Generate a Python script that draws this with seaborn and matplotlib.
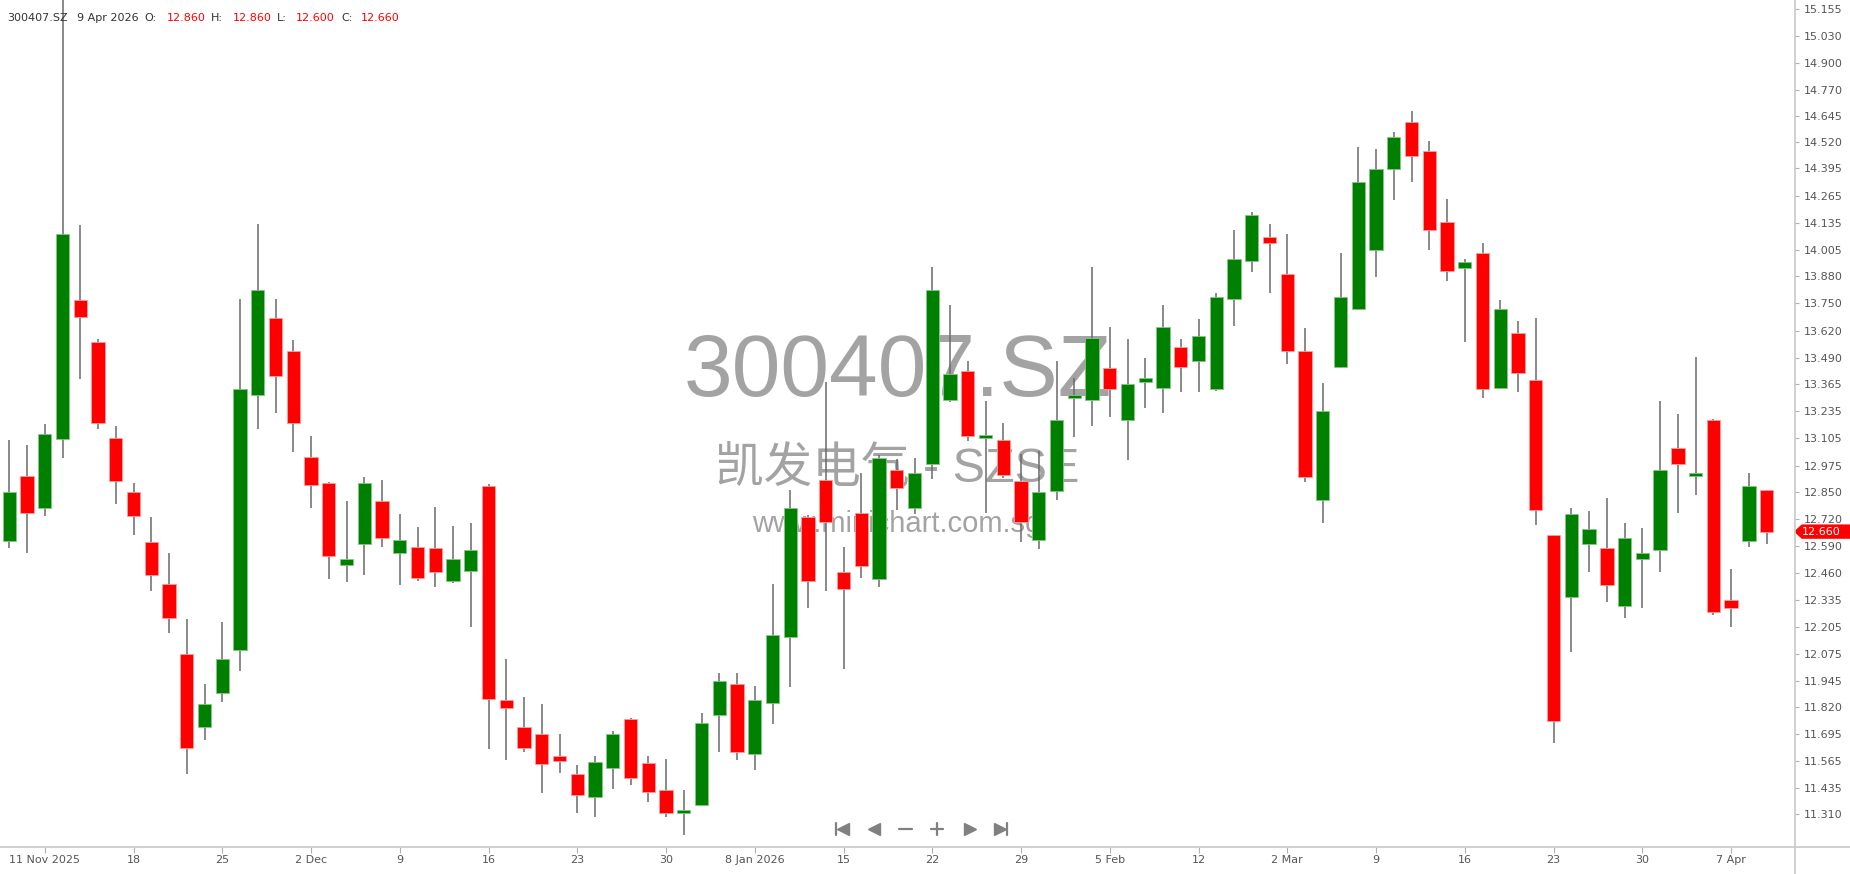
# 300407.SZ daily candles, minichart style
import matplotlib
matplotlib.use("Agg")
import matplotlib.pyplot as plt
from matplotlib.lines import Line2D
from matplotlib.patches import Polygon
import seaborn as sns
import numpy as np
import pandas as pd

ticker = "300407.SZ"
name_cn = "凯发电气 - SZSE"
site = "www.minichart.com.sg"
last_date = "9 Apr 2026"

# OHLC, oldest first
opens = [12.613, 12.926, 12.774, 13.102, 13.765, 13.564, 13.107, 12.850, 12.610, 12.409,
         12.076, 11.728, 11.889, 12.096, 13.311, 13.682, 13.523, 13.016, 12.893, 12.502,
         12.603, 12.805, 12.560, 12.588, 12.583, 12.424, 12.472, 12.880, 11.854, 11.725,
         11.695, 11.587, 11.503, 11.390, 11.531, 11.766, 11.556, 11.425, 11.314, 11.355,
         11.783, 11.932, 11.597, 11.841, 12.157, 12.731, 12.908, 12.469, 12.749, 12.434,
         12.956, 12.774, 12.981, 13.289, 13.425, 13.105, 13.100, 12.900, 12.620, 12.855,
         13.296, 13.289, 13.443, 13.195, 13.374, 13.347, 13.543, 13.475, 13.339, 13.773,
         13.952, 14.068, 13.889, 13.523, 12.812, 13.448, 13.725, 14.007, 14.393, 14.618,
         14.479, 14.141, 13.919, 13.992, 13.347, 13.611, 13.385, 12.643, 12.346, 12.603,
         12.583, 12.305, 12.527, 12.573, 13.059, 12.926, 13.195, 12.331, 12.613, 12.860]
highs = [13.100, 13.074, 13.175, 15.350, 14.123, 13.581, 13.163, 12.893, 12.729, 12.557,
         12.242, 11.932, 12.230, 13.770, 14.128, 13.770, 13.576, 13.115, 12.898, 12.805,
         12.921, 12.908, 12.744, 12.681, 12.779, 12.689, 12.701, 12.888, 12.051, 11.869,
         11.836, 11.695, 11.544, 11.589, 11.705, 11.771, 11.589, 11.574, 11.425, 11.791,
         11.985, 11.985, 11.922, 12.409, 12.858, 12.740, 13.374, 12.585, 12.938, 13.026,
         13.006, 13.014, 13.922, 13.743, 13.473, 13.284, 13.178, 13.032, 13.044, 13.473,
         13.395, 13.922, 13.639, 13.581, 13.490, 13.743, 13.581, 13.677, 13.801, 14.101,
         14.189, 14.128, 14.083, 13.634, 13.369, 13.992, 14.497, 14.486, 14.570, 14.668,
         14.527, 14.247, 13.962, 14.040, 13.765, 13.667, 13.682, 12.645, 12.774, 12.759,
         12.820, 12.699, 12.679, 13.284, 13.223, 13.493, 13.200, 12.479, 12.938, 12.860]
lows = [12.583, 12.560, 12.734, 13.014, 13.387, 13.150, 12.792, 12.646, 12.376, 12.174,
        11.501, 11.665, 11.846, 11.995, 13.150, 13.226, 13.042, 12.774, 12.434, 12.421,
        12.452, 12.585, 12.404, 12.424, 12.394, 12.415, 12.204, 11.619, 11.567, 11.609,
        11.413, 11.506, 11.314, 11.294, 11.430, 11.448, 11.370, 11.297, 11.208, 11.350,
        11.609, 11.567, 11.519, 11.740, 11.917, 12.293, 12.376, 12.005, 12.439, 12.394,
        12.762, 12.742, 12.910, 13.280, 13.092, 12.749, 12.918, 12.608, 12.575, 12.812,
        13.110, 13.163, 13.208, 13.001, 13.251, 13.228, 13.329, 13.329, 13.330, 13.642,
        13.901, 13.798, 13.463, 12.898, 12.701, 13.440, 13.720, 13.876, 14.244, 14.330,
        14.007, 13.856, 13.566, 13.296, 13.340, 13.329, 12.691, 11.650, 12.083, 12.467,
        12.323, 12.247, 12.293, 12.467, 12.747, 12.835, 12.262, 12.204, 12.585, 12.600]
closes = [12.850, 12.747, 13.127, 14.083, 13.685, 13.180, 12.900, 12.734, 12.454, 12.247,
          11.627, 11.836, 12.051, 13.342, 13.813, 13.405, 13.180, 12.883, 12.545, 12.527,
          12.893, 12.631, 12.618, 12.439, 12.467, 12.527, 12.570, 11.859, 11.819, 11.627,
          11.551, 11.562, 11.400, 11.559, 11.695, 11.481, 11.418, 11.314, 11.327, 11.746,
          11.945, 11.609, 11.854, 12.164, 12.772, 12.424, 12.704, 12.384, 12.494, 13.011,
          12.870, 12.938, 13.813, 13.415, 13.117, 13.117, 12.931, 12.704, 12.850, 13.195,
          13.309, 13.584, 13.339, 13.367, 13.395, 13.639, 13.448, 13.594, 13.780, 13.962,
          14.171, 14.040, 13.523, 12.923, 13.236, 13.783, 14.330, 14.391, 14.544, 14.456,
          14.103, 13.904, 13.949, 13.339, 13.725, 13.420, 12.762, 11.756, 12.742, 12.671,
          12.406, 12.631, 12.557, 12.956, 12.984, 12.938, 12.275, 12.295, 12.880, 12.660]

# weekly date labels, first one sits on the third candle
date_labels = ["11 Nov 2025", "18", "25", "2 Dec", "9", "16", "23", "30", "8 Jan 2026", "15",
               "22", "29", "5 Feb", "12", "2 Mar", "9", "16", "23", "30", "7 Apr"]
date_label_pos = list(range(2, 100, 5))

price_ticks = [15.155, 15.030, 14.900, 14.770, 14.645, 14.520, 14.395, 14.265, 14.135, 14.005,
               13.880, 13.750, 13.620, 13.490, 13.365, 13.235, 13.105, 12.975, 12.850, 12.720,
               12.590, 12.460, 12.335, 12.205, 12.075, 11.945, 11.820, 11.695, 11.565, 11.435,
               11.310]

df = pd.DataFrame({"open": opens, "high": highs, "low": lows, "close": closes})
df["idx"] = np.arange(len(df))
df["up"] = df["close"] >= df["open"]

W, H = 1850, 874
sns.set_theme(style="white")
plt.rcParams["font.family"] = ["DejaVu Sans", "Noto Sans CJK SC"]

fig = plt.figure(figsize=(W / 100, H / 100), dpi=100)
ax = fig.add_axes([0, 1 - 847 / H, 1795 / W, 847 / H])

GREEN, RED = "#008000", "#ff0000"

# watermark behind the candles
ax.text(898 / W, 1 - 396 / H, ticker, transform=fig.transFigure, ha="center", va="baseline",
        fontsize=63, color="#a3a3a3", family=["Liberation Sans"], zorder=0.5)
ax.text(897 / W, 1 - 482 / H, name_cn, transform=fig.transFigure, ha="center", va="baseline",
        fontsize=35, color="#a3a3a3", family=["Liberation Sans", "Noto Sans CJK SC"], zorder=0.5)
ax.text(897 / W, 1 - 532 / H, site, transform=fig.transFigure, ha="center", va="baseline",
        fontsize=21, color="#a3a3a3", family=["Liberation Sans"], zorder=0.5)

# candles
ax.vlines(df["idx"], df["low"], df["high"], color="#6a6a6a", lw=1.1, zorder=2)
body_lo = np.minimum(df["open"], df["close"])
body_h = np.maximum((df["close"] - df["open"]).abs(), 0.015)
ax.bar(df["idx"], body_h, bottom=body_lo, width=0.75,
       color=np.where(df["up"], GREEN, RED),
       edgecolor=np.where(df["up"], "#86c586", "#ff9c9c"), linewidth=0.6, zorder=3)

ax.set_xlim(-0.524, 100.6)
ax.set_ylim(11.153, 15.200)
for s in ax.spines.values():
    s.set_visible(False)

ax.set_yticks(price_ticks)
ax.set_yticklabels([f"{v:.3f}" for v in price_ticks])
ax.tick_params(axis="y", left=False, labelleft=False, right=True, labelright=True,
               length=3, width=0.8, color="#b0b0b0", pad=3, labelsize=8, labelcolor="#555555")
ax.set_xticks(date_label_pos)
ax.set_xticklabels(date_labels)
ax.tick_params(axis="x", bottom=True, length=4, width=0.8, color="#b0b0b0", pad=2,
               labelsize=8, labelcolor="#555555")
ax.grid(False)

# frame lines
fig.add_artist(Line2D([0, 1], [1 - 847 / H] * 2, color="#c8c8c8", lw=1.2, transform=fig.transFigure))
fig.add_artist(Line2D([1795 / W] * 2, [0, 1], color="#c8c8c8", lw=1.2, transform=fig.transFigure))

# last price badge
last = closes[-1]
hh = 0.031
tr = ax.get_yaxis_transform()
x1, x2 = 1 + 7 / 1795, 1 + 60 / 1795
ax.add_patch(Polygon([(1.0, last), (x1, last + hh), (x2, last + hh), (x2, last - hh), (x1, last - hh)],
                     closed=True, transform=tr, clip_on=False, color=RED, zorder=5))
ax.text(1 + 7 / 1795, last, f"{last:.3f}", transform=tr, color="white", fontsize=8,
        va="center", ha="left", clip_on=False, zorder=6)

# header
hy = 1 - 18 / H
header = [(7, ticker, "#333333"), (77, last_date, "#333333"),
          (144, "O:", "#333333"), (167, f"{opens[-1]:.3f}", RED),
          (211, "H:", "#333333"), (233, f"{highs[-1]:.3f}", RED),
          (277, "L:", "#333333"), (296, f"{lows[-1]:.3f}", RED),
          (341, "C:", "#333333"), (361, f"{closes[-1]:.3f}", RED)]
for x, s, c in header:
    fig.text(x / W, hy, s, color=c, fontsize=8, va="center", ha="left")

# navigation buttons
ny = 1 - 829 / H
grey = "#808080"
def fx(px):
    return px / W
def fy(py):
    return 1 - py / H
fig.add_artist(Line2D([fx(836)] * 2, [fy(823), fy(835)], color=grey, lw=1.6, transform=fig.transFigure))
fig.add_artist(Line2D([fx(843)], [ny], marker="<", ms=8, color=grey, mec=grey, transform=fig.transFigure))
fig.add_artist(Line2D([fx(874)], [ny], marker="<", ms=8, color=grey, mec=grey, transform=fig.transFigure))
fig.add_artist(Line2D([fx(899), fx(912)], [ny, ny], color=grey, lw=1.6, transform=fig.transFigure))
fig.add_artist(Line2D([fx(931), fx(943)], [ny, ny], color=grey, lw=1.6, transform=fig.transFigure))
fig.add_artist(Line2D([fx(937)] * 2, [fy(823), fy(835)], color=grey, lw=1.6, transform=fig.transFigure))
fig.add_artist(Line2D([fx(970)], [ny], marker=">", ms=8, color=grey, mec=grey, transform=fig.transFigure))
fig.add_artist(Line2D([fx(1000)], [ny], marker=">", ms=8, color=grey, mec=grey, transform=fig.transFigure))
fig.add_artist(Line2D([fx(1007)] * 2, [fy(823), fy(835)], color=grey, lw=1.6, transform=fig.transFigure))

fig.savefig("out.png", dpi=100)
